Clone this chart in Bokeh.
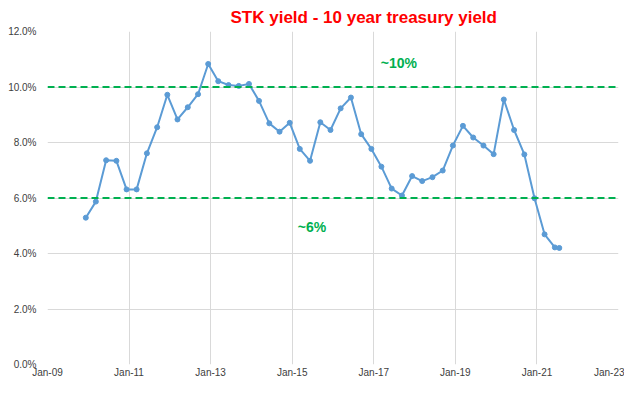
import pandas as pd
from bokeh.plotting import figure
from bokeh.models import Span, Label, FixedTicker, PrintfTickFormatter, DatetimeTickFormatter, Range1d
from bokeh.embed import file_html
from bokeh.resources import INLINE

# ---- data ----
dates = [
    "2009-12-10", "2010-03-10", "2010-06-10", "2010-09-10", "2010-12-10",
    "2011-03-10", "2011-06-10", "2011-09-10", "2011-12-10",
    "2012-03-10", "2012-06-10", "2012-09-10", "2012-12-10",
    "2013-03-10", "2013-06-10", "2013-09-10", "2013-12-10",
    "2014-03-10", "2014-06-10", "2014-09-10", "2014-12-10",
    "2015-03-10", "2015-06-10", "2015-09-10", "2015-12-10",
    "2016-03-10", "2016-06-10", "2016-09-10", "2016-12-10",
    "2017-03-10", "2017-06-10", "2017-09-10", "2017-12-10",
    "2018-03-10", "2018-06-10", "2018-09-10", "2018-12-10",
    "2019-03-10", "2019-06-10", "2019-09-10", "2019-12-10",
    "2020-03-10", "2020-06-10", "2020-09-10", "2020-12-10",
    "2021-03-10", "2021-06-10", "2021-07-20",
]
spread_pct = [
    5.29, 5.87, 7.36, 7.34, 6.31,
    6.31, 7.61, 8.55, 9.72,
    8.83, 9.27, 9.74, 10.83,
    10.21, 10.07, 10.04, 10.11,
    9.50, 8.69, 8.39, 8.71,
    7.77, 7.34, 8.73, 8.45,
    9.23, 9.62, 8.30, 7.77,
    7.13, 6.34, 6.09, 6.79,
    6.61, 6.75, 6.99, 7.89,
    8.60, 8.18, 7.89, 7.58,
    9.55, 8.45, 7.57, 5.99,
    4.69, 4.22, 4.20,
]
band_levels = [10.0, 6.0]
band_labels = ["~10%", "~6%"]
x_tick_dates = ["2009-01-01", "2011-01-01", "2013-01-01", "2015-01-01",
                "2017-01-01", "2019-01-01", "2021-01-01", "2023-01-01"]
y_ticks = [0, 2, 4, 6, 8, 10, 12]
title_text = "STK yield -  10 year treasury yield"

FONT = "Liberation Sans"


def ms(s):
    return pd.Timestamp(s).timestamp() * 1000.0


x = pd.to_datetime(dates)
x_ticks = [ms(d) for d in x_tick_dates]

p = figure(
    width=624, height=380,
    x_axis_type="datetime",
    x_range=Range1d(x_ticks[0], x_ticks[-1]),
    y_range=Range1d(y_ticks[0], y_ticks[-1]),
    output_backend="svg", toolbar_location=None,
    min_border_left=47, min_border_right=6, min_border_top=29, min_border_bottom=14,
    background_fill_color="white", border_fill_color="white",
)
p.outline_line_color = None

# title
p.title.text = title_text
p.title.text_color = "#FF0000"
p.title.text_font = FONT
p.title.text_font_size = "17px"
p.title.text_font_style = "bold"
p.title.align = "left"
p.title.offset = 183
p.title.standoff = 10

# grid
p.xgrid.ticker = FixedTicker(ticks=x_ticks)
p.ygrid.ticker = FixedTicker(ticks=y_ticks)
p.xgrid.grid_line_color = "#D9D9D9"
p.ygrid.grid_line_color = "#D9D9D9"

# axes
for ax in (p.xaxis[0], p.yaxis[0]):
    ax.axis_line_color = None
    ax.major_tick_line_color = None
    ax.minor_tick_line_color = None
    ax.major_tick_in = 0
    ax.major_tick_out = 0
    ax.minor_tick_out = 0
    ax.major_label_text_font = FONT
    ax.major_label_text_font_size = "10px"
    ax.major_label_text_color = "#404040"

p.xaxis[0].ticker = FixedTicker(ticks=x_ticks)
p.xaxis[0].formatter = DatetimeTickFormatter(
    years="%b-%y", months="%b-%y", days="%b-%y", hours="%b-%y",
    minutes="%b-%y", seconds="%b-%y", milliseconds="%b-%y", microseconds="%b-%y")
p.xaxis[0].major_label_standoff = 2

p.yaxis[0].ticker = FixedTicker(ticks=y_ticks)
p.yaxis[0].formatter = PrintfTickFormatter(format="%.1f%%")
p.yaxis[0].major_label_standoff = 11

# reference bands
for lvl in band_levels:
    p.add_layout(Span(location=lvl, dimension="width", line_color="#00B050",
                      line_dash="7 4", line_width=2))

label_pos = [(ms("2017-03-05"), 10.87), (ms("2015-02-20"), 4.96)]
for (lx, ly), txt in zip(label_pos, band_labels):
    p.add_layout(Label(x=lx, y=ly, text=txt, text_color="#00B050",
                       text_font=FONT, text_font_size="14px", text_font_style="bold",
                       text_baseline="middle", text_align="left"))

# series
p.line(x, spread_pct, line_color="#5B9BD5", line_width=2)
p.scatter(x, spread_pct, size=5, fill_color="#5B9BD5", line_color="#5B9BD5")

open("out.html", "w").write(file_html(p, INLINE))
